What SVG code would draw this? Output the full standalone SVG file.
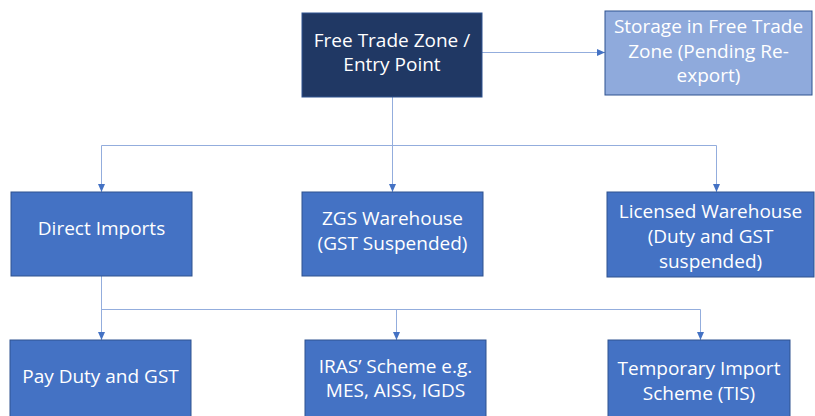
<svg xmlns="http://www.w3.org/2000/svg" width="815" height="416" viewBox="0 0 815 416">
  <style>
    .box { fill: #4472C4; stroke: #2F528F; stroke-width: 1; }
    .dark { fill: #203864; stroke: #2F528F; stroke-width: 1; }
    .light { fill: #8FAADC; stroke: #2F528F; stroke-width: 1; }
    .lbl { font-family: "Open Sans", "Liberation Sans", sans-serif; font-size: 19px; fill: #FFFFFF; text-anchor: middle; }
    .edge { fill: none; stroke: #93ADDD; stroke-width: 1; }
  </style>
  <defs>
    <marker id="arr" viewBox="0 0 8 7" refX="8" refY="3.5" markerWidth="8" markerHeight="7" markerUnits="userSpaceOnUse" orient="auto">
      <path d="M0,0 L8,3.5 L0,7 Z" fill="#4472C4"/>
    </marker>
  </defs>
  <rect width="815" height="416" fill="#FFFFFF"/>

  <g id="connectors">
    <path class="edge" d="M482,52.5 H605" marker-end="url(#arr)"/>
    <path class="edge" d="M392.5,97 V145.5 H101.5 V192" marker-end="url(#arr)"/>
    <path class="edge" d="M392.5,97 V192" marker-end="url(#arr)"/>
    <path class="edge" d="M392.5,97 V145.5 H716.5 V192" marker-end="url(#arr)"/>
    <path class="edge" d="M101.5,276 V340" marker-end="url(#arr)"/>
    <path class="edge" d="M101.5,276 V309.5 H396.5 V340" marker-end="url(#arr)"/>
    <path class="edge" d="M101.5,276 V309.5 H700.5 V340" marker-end="url(#arr)"/>
  </g>

  <g id="free-trade-zone">
    <rect class="dark" x="302" y="13" width="180" height="84"/>
    <text class="lbl" x="392" y="47">Free Trade Zone /</text>
    <text class="lbl" x="392" y="71">Entry Point</text>
  </g>

  <g id="storage-ftz">
    <rect class="light" x="605" y="11" width="207" height="84"/>
    <text class="lbl" x="708.5" y="33">Storage in Free Trade</text>
    <text class="lbl" x="708.5" y="57.5">Zone (Pending Re-</text>
    <text class="lbl" x="708.5" y="82">export)</text>
  </g>

  <g id="direct-imports">
    <rect class="box" x="11" y="192" width="181" height="84"/>
    <text class="lbl" x="101.5" y="235">Direct Imports</text>
  </g>

  <g id="zgs-warehouse">
    <rect class="box" x="302" y="192" width="181" height="84"/>
    <text class="lbl" x="392.5" y="225">ZGS Warehouse</text>
    <text class="lbl" x="392.5" y="250">(GST Suspended)</text>
  </g>

  <g id="licensed-warehouse">
    <rect class="box" x="607" y="192" width="207" height="85"/>
    <text class="lbl" x="710.5" y="218">Licensed Warehouse</text>
    <text class="lbl" x="710.5" y="243">(Duty and GST</text>
    <text class="lbl" x="710.5" y="268">suspended)</text>
  </g>

  <g id="pay-duty">
    <rect class="box" x="10" y="340" width="181" height="84"/>
    <text class="lbl" x="100.5" y="383">Pay Duty and GST</text>
  </g>

  <g id="iras-scheme">
    <rect class="box" x="305" y="340" width="181" height="84"/>
    <text class="lbl" x="395.5" y="373">IRAS’ Scheme e.g.</text>
    <text class="lbl" x="395.5" y="397">MES, AISS, IGDS</text>
  </g>

  <g id="tis">
    <rect class="box" x="608" y="340" width="182" height="84"/>
    <text class="lbl" x="699" y="375">Temporary Import</text>
    <text class="lbl" x="699" y="400">Scheme (TIS)</text>
  </g>
</svg>
